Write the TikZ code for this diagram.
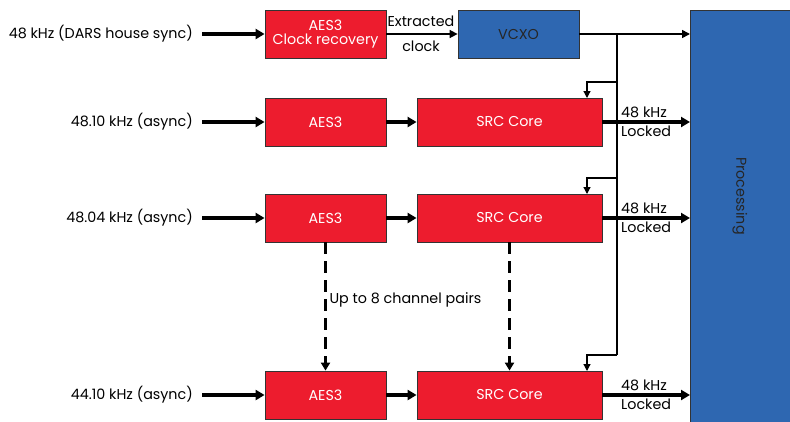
\documentclass[tikz,border=0pt]{standalone}
\usepackage{fontspec}
\setmainfont{Poppins}
\usetikzlibrary{arrows.meta}
\definecolor{boxred}{HTML}{ED1C2E}
\definecolor{boxblue}{HTML}{2E67B1}
\begin{document}
\begin{tikzpicture}[x=1pt,y=-1pt,font=\fontsize{14.3}{16}\selectfont,
  redbox/.style={draw=black!80,line width=0.8pt,fill=boxred,text=white,minimum height=48pt,inner sep=0pt,align=center},
  bluebox/.style={draw=black!80,line width=0.8pt,fill=boxblue,text=black!85,minimum height=48pt,inner sep=0pt},
  thickarrow/.style={line width=3.4pt,-{Triangle[length=9pt,width=10pt]}},
  thinarrow/.style={line width=1.6pt,-{Triangle[length=8pt,width=8pt]}},
  clockline/.style={line width=1.2pt},
  clockarrow/.style={line width=1.2pt,-{Triangle[length=7pt,width=7pt]}},
  dasharrow/.style={line width=3.6pt,dash pattern=on 12pt off 7pt,-{Triangle[length=8pt,width=9pt]}},
  inlabel/.style={anchor=east,inner sep=0pt}]
\useasboundingbox (0,0) rectangle (790,421);
% Processing block
\fill[boxblue] (690,10) rectangle (795,426);
\draw[black!80,line width=0.8pt] (690,426) -- (690,10) -- (795,10);
\node[rotate=-90,text=black!85] (proc) at (740,196) {Processing};
\coordinate (pin1) at (690,34);
\coordinate (pin2) at (690,122);
\coordinate (pin3) at (690,218);
\coordinate (pin4) at (690,395);
% boxes
\node[redbox,minimum width=121pt] (cr) at (325.5,34) {AES3\\[-2pt]Clock recovery};
\node[bluebox,minimum width=121pt] (vcxo) at (518.5,34) {VCXO};
\node[redbox,minimum width=121pt] (a2) at (325.5,122) {AES3};
\node[redbox,minimum width=185pt] (s2) at (509.5,122) {SRC Core};
\node[redbox,minimum width=121pt] (a3) at (325.5,218) {AES3};
\node[redbox,minimum width=185pt] (s3) at (509.5,218) {SRC Core};
\node[redbox,minimum width=121pt] (a4) at (325.5,395) {AES3};
\node[redbox,minimum width=185pt] (s4) at (509.5,395) {SRC Core};
% input labels
\node[inlabel] (l1) at (193,34) {48 kHz (DARS house sync)};
\node[inlabel] (l2) at (193,122) {48.10 kHz (async)};
\node[inlabel] (l3) at (193,218) {48.04 kHz (async)};
\node[inlabel] (l4) at (193,395) {44.10 kHz (async)};
\draw[thickarrow] (202,34) -- (cr.west);
\draw[thickarrow] (202,122) -- (a2.west);
\draw[thickarrow] (202,218) -- (a3.west);
\draw[thickarrow] (202,395) -- (a4.west);
% AES3 -> SRC
\draw[thickarrow] (a2.east) -- (s2.west);
\draw[thickarrow] (a3.east) -- (s3.west);
\draw[thickarrow] (a4.east) -- (s4.west);
% clock recovery -> VCXO
\draw[thinarrow] (cr.east) -- (vcxo.west);
\node (ext) at (421,21) {Extracted};
\node (clk) at (421,46) {clock};
% VCXO -> processing
\draw[thinarrow] (vcxo.east) -- (pin1);
% clock distribution
\coordinate (ctop) at (617,34);
\coordinate (cb2) at (617,82);
\coordinate (cb3) at (617,178);
\coordinate (cb4) at (617,355);
\draw[clockline] (ctop) -- (cb4);
\draw[clockarrow] (cb2) -| (587,98);
\draw[clockarrow] (cb3) -| (587,194);
\draw[clockarrow] (cb4) -| (587,371);
% SRC -> processing
\draw[thickarrow] (s2.east) -- (pin2);
\draw[thickarrow] (s3.east) -- (pin3);
\draw[thickarrow] (s4.east) -- (pin4);
\foreach \y/\n in {122/2,218/3,395/4}{
  \node[anchor=south west,inner sep=0pt] (k\n) at (621,\y-4) {48 kHz};
  \node[anchor=north west,inner sep=0pt] (lk\n) at (621,\y+4) {Locked};
}
% dashed
\draw[dasharrow] (a3.south) -- (a4.north);
\draw[dasharrow] (s3.south) -- (s3.south |- s4.north);
\node[anchor=west] (up) at (326,300) {Up to 8 channel pairs};
\end{tikzpicture}
\end{document}
